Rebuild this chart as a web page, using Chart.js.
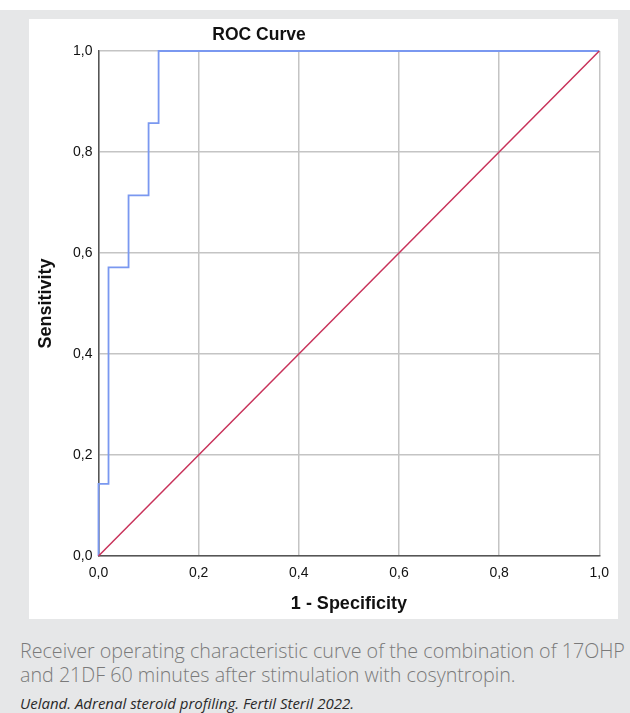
<!DOCTYPE html>
<html>
<head>
<meta charset="utf-8">
<script src="https://cdn.jsdelivr.net/npm/chart.js@4"></script>
<style>
  html, body { margin: 0; padding: 0; }
  body { width: 630px; height: 713px; background: #fff; position: relative; overflow: hidden; }
  #frame { position: absolute; left: 0; top: 10px; width: 630px; height: 703px; background: #e6e7e8; }
  #panel { position: absolute; left: 29px; top: 19px; width: 589px; height: 600px; background: #fff; }
  #caption { position: absolute; left: 20px; top: 639px; width: 612px; font-family: "Open Sans", sans-serif; font-weight: 300;
             font-size: 19.7px; line-height: 24px; color: #7a7a7a; white-space: nowrap; }
  #source { position: absolute; left: 20px; top: 693px; font-family: "Open Sans", sans-serif; font-style: italic;
            font-size: 15px; color: #2a2a2a; }
</style>
</head>
<body>
<div id="frame"></div>
<div id="panel"><canvas id="rocChart" width="589" height="600"></canvas></div>
<div id="caption">Receiver operating characteristic curve of the combination of 17OHP<br>and 21DF 60 minutes after stimulation with cosyntropin.</div>
<div id="source">Ueland. Adrenal steroid profiling. Fertil Steril 2022.</div>
<script>
// ROC curve steps (1 - specificity, sensitivity)
const fpr = [0, 0, 0.02, 0.02, 0.06, 0.06, 0.10, 0.10, 0.12, 0.12, 1.0];
const tpr = [0, 1/7, 1/7, 4/7, 4/7, 5/7, 5/7, 6/7, 6/7, 1.0, 1.0];
// reference line
const refX = [0, 1];
const refY = [0, 1];
const tickValues = [0, 0.2, 0.4, 0.6, 0.8, 1.0];

function toPoints(xs, ys) {
    return xs.map((x, i) => ({ x: x, y: ys[i] }));
}

// title drawn where SPSS puts it (not centred on the plot)
const titlePlugin = {
    id: 'spssTitle',
    afterDraw(chart) {
        const ctx = chart.ctx;
        ctx.save();
        ctx.font = 'bold 17.5px "Liberation Sans", Arial, sans-serif';
        ctx.fillStyle = '#111';
        ctx.textAlign = 'center';
        ctx.textBaseline = 'middle';
        ctx.fillText('ROC Curve', 230, 16);
        ctx.restore();
    }
};

const tickFmt = v => v.toFixed(1).replace('.', ',');
const fontFam = '"Liberation Sans", Arial, sans-serif';

new Chart(document.getElementById('rocChart').getContext('2d'), {
    type: 'scatter',
    data: {
        datasets: [{
            data: toPoints(refX, refY),
            showLine: true,
            borderColor: '#c8325a',
            borderWidth: 1.5,
            pointRadius: 0,
            clip: false
        }, {
            data: toPoints(fpr, tpr),
            showLine: true,
            borderColor: '#7a98f0',
            borderWidth: 1.8,
            pointRadius: 0,
            clip: false
        }]
    },
    options: {
        responsive: false,
        animation: false,
        layout: { padding: { top: 32, right: 13, left: 0, bottom: 0 } },
        plugins: {
            legend: { display: false },
            tooltip: { enabled: false }
        },
        scales: {
            x: {
                type: 'linear',
                min: 0,
                max: 1,
                afterFit: s => { s.height = 63; },
                afterBuildTicks: s => { s.ticks = tickValues.map(v => ({ value: v })); },
                grid: { color: '#c4c4c4', lineWidth: 1.5, drawTicks: false },
                border: { color: '#555', width: 1.5 },
                ticks: {
                    padding: 9,
                    color: '#111',
                    font: { family: fontFam, size: 14 },
                    callback: tickFmt
                },
                title: {
                    display: true,
                    text: '1 - Specificity',
                    color: '#111',
                    font: { family: fontFam, size: 18, weight: 'bold' },
                    padding: { top: 0, bottom: 4 }
                }
            },
            y: {
                type: 'linear',
                min: 0,
                max: 1,
                afterFit: s => { s.width = 69.5; },
                afterBuildTicks: s => { s.ticks = tickValues.map(v => ({ value: v })); },
                grid: { color: '#c4c4c4', lineWidth: 1.5, drawTicks: false },
                border: { color: '#555', width: 1.5 },
                ticks: {
                    padding: 6,
                    color: '#111',
                    font: { family: fontFam, size: 14 },
                    callback: tickFmt
                },
                title: {
                    display: true,
                    text: 'Sensitivity',
                    color: '#111',
                    font: { family: fontFam, size: 18, weight: 'bold' },
                    padding: { top: 6, bottom: 0 }
                }
            }
        }
    },
    plugins: [titlePlugin]
});
</script>
</body>
</html>
